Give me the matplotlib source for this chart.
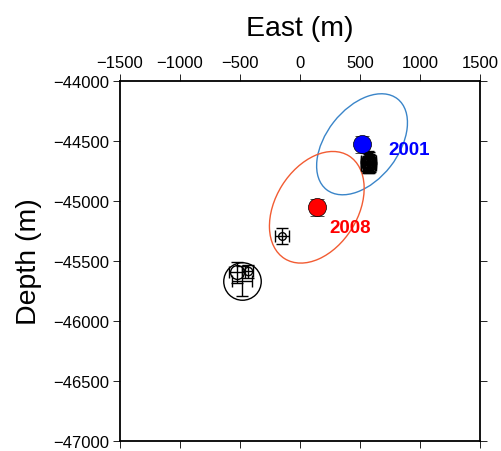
import matplotlib

matplotlib.use("Agg")
import matplotlib.pyplot as plt
from matplotlib.patches import Ellipse

plt.rcParams["font.family"] = ["Liberation Sans", "DejaVu Sans"]

# event locations (East, Depth) in metres with errors
YEARS = ["2001", "2008"]
YEAR_E = [517, 140]
YEAR_Z = [-44530, -45055]
YEAR_ERR_Z = [70, 70]
YEAR_COLORS = ["#0000ff", "#ff0000"]
ELL_A = [480, 505]        # semi-major axis (m)
ELL_B = [300, 342]        # semi-minor axis (m)
ELL_ANGLE = [52, 58]      # deg
ELL_COLORS = ["#3a85c9", "#f25c33"]
LABEL_E = [733, 242]
LABEL_Z = [-44574, -45222]

# other hypocentres (open circles with error bars)
PT_E = [560, 576, 570, 582, 566, 574, 563, 579, -150, -483, -525, -435]
PT_Z = [-44680, -44700, -44668, -44690, -44705, -44684, -44694, -44674,
        -45295, -45671, -45598, -45590]
PT_ERR_E = [55, 55, 60, 50, 55, 52, 58, 50, 55, 80, 70, 45]
PT_ERR_Z = [75, 70, 80, 70, 65, 72, 68, 78, 70, 125, 85, 55]
PT_SIZE = [9, 9, 9, 9, 9, 8, 8, 8, 5.5, 27, 10, 6]

XTICKS = [-1500, -1000, -500, 0, 500, 1000, 1500]
YTICKS = [-44000, -44500, -45000, -45500, -46000, -46500, -47000]

fig = plt.figure(figsize=(5.01, 4.52), dpi=100)
ax = fig.add_axes([0.2395, 0.0228, 0.7186, 0.7965])

for a, b, ang, e, z, c in zip(ELL_A, ELL_B, ELL_ANGLE, YEAR_E, YEAR_Z, ELL_COLORS):
    ax.add_patch(Ellipse((e, z), 2 * a, 2 * b, angle=ang, fill=False,
                         edgecolor=c, lw=1.0, zorder=2))

for e, z, ee, ez, ms in zip(PT_E, PT_Z, PT_ERR_E, PT_ERR_Z, PT_SIZE):
    ax.errorbar(e, z, xerr=ee, yerr=ez, fmt="o", ms=ms, mfc="none", mec="black",
                mew=1.0, ecolor="black", elinewidth=1.0, capsize=4, capthick=1.0,
                zorder=3)

for e, z, ez, c in zip(YEAR_E, YEAR_Z, YEAR_ERR_Z, YEAR_COLORS):
    ax.errorbar(e, z, yerr=ez, fmt="o", ms=13, mfc=c, mec="black", mew=0.5,
                ecolor="black", elinewidth=1.0, capsize=5, capthick=1.2, zorder=4)

for t, e, z, c in zip(YEARS, LABEL_E, LABEL_Z, YEAR_COLORS):
    ax.text(e, z, t, color=c, fontsize=13.5, fontweight="bold", ha="left",
            va="center", zorder=5)

ax.set_xlim(-1500, 1500)
ax.set_ylim(-47000, -44000)
ax.set_xticks(XTICKS)
ax.set_yticks(YTICKS)
ax.set_xticklabels([str(v).replace("-", "\u2212") for v in XTICKS])
ax.set_yticklabels([str(v).replace("-", "\u2212") for v in YTICKS])
ax.tick_params(direction="out", length=5, width=0.6, labelsize=12,
               top=True, right=True, bottom=True, left=True,
               labeltop=True, labelbottom=False, pad=3)
for s in ax.spines.values():
    s.set_linewidth(1.3)

ax.xaxis.set_label_position("top")
ax.set_xlabel("East (m)", fontsize=20.5, labelpad=14)
ax.set_ylabel("Depth (m)", fontsize=20.5, labelpad=8)

fig.savefig("out.png", dpi=100, facecolor="white")
